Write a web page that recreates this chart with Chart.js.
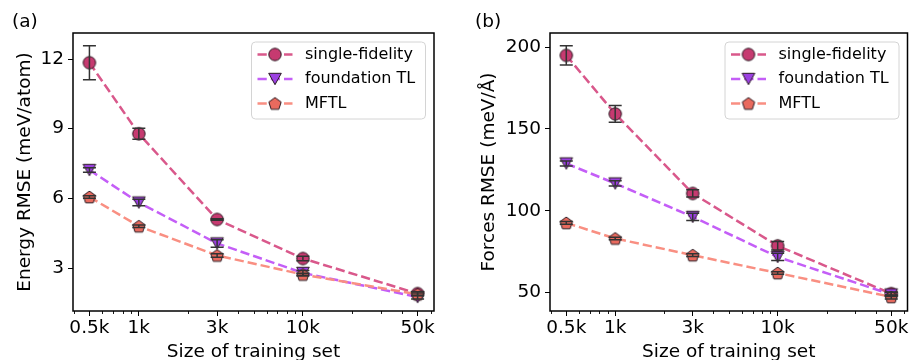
<!DOCTYPE html>
<html><head><meta charset="utf-8">
<script src="https://cdn.jsdelivr.net/npm/chart.js@4.4.1/dist/chart.umd.min.js"></script>
<style>
html,body{margin:0;padding:0;background:#fff;overflow:hidden;width:916px;height:360px}
#wrap{position:relative;width:916px;height:360px;overflow:hidden;background:#fff}
canvas{position:absolute;top:0}
#ca{left:0}#cb{left:458px}
</style></head><body>
<div id="wrap"><canvas id="ca" width="458" height="380"></canvas><canvas id="cb" width="458" height="380"></canvas></div>
<script>
// ---- data ----
const sizes = [500, 1000, 3000, 10000, 50000];
const xTickLabels = ['0.5k', '1k', '3k', '10k', '50k'];
const xMinorTicks = [400, 600, 700, 800, 900, 2000, 4000, 5000, 6000, 7000, 8000, 9000, 20000, 30000, 40000, 60000];
const seriesNames = ['single-fidelity', 'foundation TL', 'MFTL'];

// (a) Energy RMSE (meV/atom)
const energySF = [11.84, 8.78, 5.09, 3.41, 1.90];
const energySFErr = [0.73, 0.24, 0.03, 0.10, 0.08];
const energyFTL = [7.22, 5.82, 4.06, 2.79, 1.75];
const energyFTLErr = [0.10, 0.14, 0.16, 0.10, 0.08];
const energyMFTL = [6.06, 4.80, 3.54, 2.72, 1.87];
const energyMFTLErr = [0.05, 0.05, 0.08, 0.06, 0.06];
const energyTicks = [3, 6, 9, 12];

// (b) Forces RMSE (meV/Å)
const forcesSF = [194.9, 159.2, 110.6, 78.6, 49.4];
const forcesSFErr = [5.9, 5.1, 2.2, 2.6, 1.0];
const forcesFTL = [128.9, 116.7, 96.3, 71.8, 48.9];
const forcesFTLErr = [1.5, 1.6, 2.2, 2.2, 1.2];
const forcesMFTL = [92.6, 83.1, 72.9, 62.0, 47.4];
const forcesMFTLErr = [0.8, 0.8, 0.8, 0.8, 1.2];
const forcesTicks = [50, 100, 150, 200];

// ---- styles ----
const FONT = 'DejaVu Sans';
const lineColors = ['#d9588b', '#c45ef7', '#f98f82'];
const markerColors = ['#c63a70', '#9c40e2', '#e96a5e'];
const edgeColor = '#2a1a22';

function markerCanvas(kind, fill) {
  const s = 18, c = document.createElement('canvas');
  c.width = s; c.height = s;
  const g = c.getContext('2d');
  const cx = s / 2, cy = s / 2;
  g.beginPath();
  if (kind === 'circle') {
    g.arc(cx, cy, 6.2, 0, Math.PI * 2);
  } else if (kind === 'tri') {
    g.moveTo(cx - 6.3, cy - 5.7); g.lineTo(cx + 6.3, cy - 5.7); g.lineTo(cx, cy + 5.7); g.closePath();
  } else {
    const r = 6.5;
    for (let k = 0; k < 5; k++) {
      const a = -Math.PI / 2 + k * 2 * Math.PI / 5;
      const px = cx + r * Math.cos(a), py = cy + 0.6 + r * Math.sin(a);
      if (k === 0) g.moveTo(px, py); else g.lineTo(px, py);
    }
    g.closePath();
  }
  g.fillStyle = fill; g.fill();
  g.lineWidth = 1; g.strokeStyle = edgeColor; g.stroke();
  return c;
}
const markers = [markerCanvas('circle', markerColors[0]), markerCanvas('tri', markerColors[1]), markerCanvas('pent', markerColors[2])];

// ---- plugins ----
const framePlugin = {
  id: 'frame',
  afterDraw(chart) {
    const { ctx, chartArea: a } = chart;
    ctx.save();
    ctx.lineWidth = 1.5; ctx.strokeStyle = '#000';
    ctx.strokeRect(a.left, a.top, a.right - a.left, a.bottom - a.top);
    const xs = chart.scales.x;
    ctx.lineWidth = 0.9;
    ctx.beginPath();
    xMinorTicks.forEach(v => {
      const px = Math.round(xs.getPixelForValue(v)) + 0.5;
      ctx.moveTo(px, a.bottom); ctx.lineTo(px, a.bottom + 3);
    });
    ctx.stroke();
    ctx.restore();
  }
};

const errPlugin = {
  id: 'errbars',
  afterDatasetsDraw(chart) {
    const { ctx } = chart;
    const xs = chart.scales.x, ys = chart.scales.y;
    ctx.save();
    ctx.strokeStyle = '#333'; ctx.lineWidth = 1.5;
    chart.data.datasets.forEach(ds => {
      ds.data.forEach((p, i) => {
        const e = ds.err[i];
        const px = xs.getPixelForValue(p.x);
        const y1 = ys.getPixelForValue(p.y - e), y2 = ys.getPixelForValue(p.y + e);
        ctx.beginPath();
        ctx.moveTo(px, y1); ctx.lineTo(px, y2);
        ctx.moveTo(px - 6.5, y1); ctx.lineTo(px + 6.5, y1);
        ctx.moveTo(px - 6.5, y2); ctx.lineTo(px + 6.5, y2);
        ctx.stroke();
      });
    });
    ctx.restore();
  }
};

const legendPlugin = {
  id: 'mplLegend',
  afterDraw(chart) {
    const { ctx, chartArea: a } = chart;
    const w = 174, h = 77;
    const x0 = a.right - 8.5 - w, y0 = a.top + 9;
    ctx.save();
    const r = 4;
    ctx.beginPath();
    ctx.moveTo(x0 + r, y0); ctx.lineTo(x0 + w - r, y0); ctx.quadraticCurveTo(x0 + w, y0, x0 + w, y0 + r);
    ctx.lineTo(x0 + w, y0 + h - r); ctx.quadraticCurveTo(x0 + w, y0 + h, x0 + w - r, y0 + h);
    ctx.lineTo(x0 + r, y0 + h); ctx.quadraticCurveTo(x0, y0 + h, x0, y0 + h - r);
    ctx.lineTo(x0, y0 + r); ctx.quadraticCurveTo(x0, y0, x0 + r, y0); ctx.closePath();
    ctx.fillStyle = 'rgba(255,255,255,0.85)'; ctx.fill();
    ctx.strokeStyle = '#d4d4d4'; ctx.lineWidth = 1; ctx.stroke();
    const rows = [12.5, 37, 61.5];
    chart.data.datasets.forEach((ds, i) => {
      const yy = y0 + rows[i];
      ctx.beginPath();
      ctx.setLineDash(ds.borderDash); ctx.lineWidth = ds.borderWidth; ctx.strokeStyle = ds.borderColor;
      ctx.moveTo(x0 + 6, yy); ctx.lineTo(x0 + 41, yy); ctx.stroke();
      ctx.setLineDash([]);
      const m = ds.pointStyle;
      ctx.drawImage(m, x0 + 23.5 - m.width / 2, yy - m.height / 2);
      ctx.fillStyle = '#000'; ctx.font = '16px "' + FONT + '"';
      ctx.textBaseline = 'middle'; ctx.textAlign = 'left';
      ctx.fillText(ds.label, x0 + 53.5, yy);
    });
    ctx.restore();
  }
};

const panelLabelPlugin = {
  id: 'panelLabel',
  afterDraw(chart, args, opts) {
    const { ctx } = chart;
    ctx.save();
    ctx.fillStyle = '#000'; ctx.font = '18.5px "' + FONT + '"';
    ctx.textBaseline = 'middle'; ctx.textAlign = 'left';
    ctx.fillText(opts.text, opts.x, opts.y);
    ctx.restore();
  }
};

function makeDatasets(vals, errs) {
  return vals.map((v, k) => ({
    label: seriesNames[k],
    data: sizes.map((x, i) => ({ x: x, y: v[i] })),
    err: errs[k],
    borderColor: lineColors[k],
    borderWidth: 2.5,
    borderDash: [9.25, 4],
    pointStyle: markers[k],
    pointRadius: 6,
    pointHoverRadius: 6,
    tension: 0,
    fill: false,
    order: 3 - k
  }));
}

function makeChart(id, cfg) {
  const tickFont = { family: FONT, size: 18.5 };
  return new Chart(document.getElementById(id), {
    type: 'line',
    data: { datasets: makeDatasets(cfg.vals, cfg.errs) },
    plugins: [framePlugin, errPlugin, legendPlugin, panelLabelPlugin],
    options: {
      responsive: false, animation: false, devicePixelRatio: 1,
      layout: { padding: { left: 0, right: cfg.padRight, top: 33, bottom: 0 } },
      plugins: {
        legend: { display: false }, tooltip: { enabled: false },
        panelLabel: { text: cfg.panel, x: cfg.panelX, y: 22 }
      },
      scales: {
        x: {
          type: 'logarithmic', min: 397, max: 62950,
          afterBuildTicks: s => { s.ticks = sizes.map(v => ({ value: v })); },
          afterFit: s => { s.height = 69; },
          ticks: { autoSkip: false, maxRotation: 0, minRotation: 0, padding: 1.5, color: '#000', font: tickFont,
                   callback: (v, i) => xTickLabels[i] },
          grid: { drawOnChartArea: false, drawTicks: true, tickLength: 5, tickColor: '#000', tickWidth: 1 },
          border: { display: false },
          title: { display: true, text: 'Size of training set', color: '#000', font: tickFont, padding: { top: 0, bottom: 16.9 } }
        },
        y: {
          type: 'linear', min: cfg.yMin, max: cfg.yMax,
          afterBuildTicks: s => { s.ticks = cfg.yTicks.map(v => ({ value: v })); },
          afterFit: s => { s.width = cfg.yWidth; },
          ticks: { padding: 4, color: '#000', font: tickFont },
          grid: { drawOnChartArea: false, drawTicks: true, tickLength: 5, tickColor: '#000', tickWidth: 1 },
          border: { display: false },
          title: { display: true, text: cfg.yTitle, color: '#000', font: tickFont, padding: { top: cfg.yTitlePad, bottom: 0 } }
        }
      }
    }
  });
}

makeChart('ca', {
  vals: [energySF, energyFTL, energyMFTL],
  errs: [energySFErr, energyFTLErr, energyMFTLErr],
  yMin: 1.15, yMax: 13.12, yTicks: energyTicks,
  yTitle: 'Energy RMSE (meV/atom)', yTitlePad: 13.9, yWidth: 73, padRight: 24,
  panel: '(a)', panelX: 12
});
makeChart('cb', {
  vals: [forcesSF, forcesFTL, forcesMFTL],
  errs: [forcesSFErr, forcesFTLErr, forcesMFTLErr],
  yMin: 38.8, yMax: 208.6, yTicks: forcesTicks,
  yTitle: 'Forces RMSE (meV/Å)', yTitlePad: 19.9, yWidth: 92, padRight: 4,
  panel: '(b)', panelX: 17
});
</script>
</body></html>
